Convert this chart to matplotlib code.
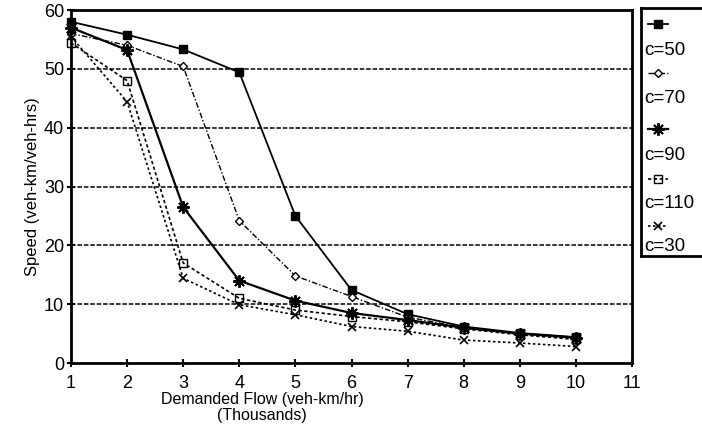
import numpy as np
import matplotlib
matplotlib.use("Agg")
import matplotlib.pyplot as plt

plt.rcParams['font.family'] = ['Liberation Sans Narrow', 'Liberation Sans', 'DejaVu Sans']

# data (flow in thousands veh-km/hr, speed)
flow = [1, 2, 3, 4, 5, 6, 7, 8, 9, 10]
speed_c50 = [58, 55.8, 53.3, 49.4, 25.0, 12.4, 8.3, 6.2, 5.1, 4.4]
speed_c70 = [56, 54.0, 50.4, 24.2, 14.8, 11.3, 7.8, 6.0, 5.0, 4.2]
speed_c90 = [57, 53.2, 26.5, 14.0, 10.6, 8.5, 7.3, 6.0, 5.0, 4.3]
speed_c110 = [54.4, 48.0, 17.0, 11.0, 9.0, 7.9, 7.0, 5.8, 4.8, 4.0]
speed_c30 = [55.5, 44.4, 14.4, 9.9, 8.2, 6.2, 5.4, 3.9, 3.4, 2.8]

labels = ["c=50", "c=70", "c=90", "c=110", "c=30"]
series = [speed_c50, speed_c70, speed_c90, speed_c110, speed_c30]
styles = [
    dict(ls="-", lw=1.3, marker="s", ms=6, mfc="black", mec="black"),
    dict(ls=(0, (4, 1.5, 1, 1.5)), lw=1.0, marker="D", ms=4, mfc="white", mec="black"),
    dict(ls="-", lw=1.6, marker=(8, 2, 0), ms=9, mfc="black", mec="black", mew=1.4),
    dict(ls=(0, (2, 1.5)), lw=1.2, marker="s", ms=6, mfc="none", mec="black"),
    dict(ls=(0, (1.5, 1.5)), lw=1.2, marker="x", ms=6, mfc="none", mec="black", mew=1.2),
]

fig = plt.figure(figsize=(7.02, 4.40), dpi=100)
ax = fig.add_axes([71 / 702, 1 - 363 / 440, (632 - 71) / 702, (363 - 10) / 440])

for ys, st in zip(series, styles):
    ax.plot(flow, ys, color="black", **st, clip_on=False, zorder=3)

ax.set_xlim(1, 11)
ax.set_ylim(0, 60)
ax.set_xticks(range(1, 12))
ax.set_yticks(range(0, 61, 10))
for y in range(10, 60, 10):
    ax.axhline(y, color="black", ls=(0, (3, 1.2)), lw=1.1, zorder=1)
for s in ax.spines.values():
    s.set_linewidth(2)
ax.tick_params(axis="both", direction="inout", length=6, width=1.5, labelsize=13, pad=2)
ax.tick_params(axis="x", pad=6)
ax.set_xlabel("Demanded Flow (veh-km/hr)\n(Thousands)", fontsize=11.5, linespacing=1.05)
ax.xaxis.set_label_coords((262 - 71) / 561, -29 / 353, transform=ax.transAxes)
ax.xaxis.label.set_va("top")
ax.set_ylabel("Speed (veh-km/veh-hrs)", fontsize=12, labelpad=3)

# legend box: sample line above, label below
lax = fig.add_axes([641 / 702, 1 - 256 / 440, 80 / 702, (256 - 8) / 440])
lax.set_xlim(641, 721)
lax.set_ylim(256, 8)
lax.set_xticks([])
lax.set_yticks([])
for s in lax.spines.values():
    s.set_linewidth(2)
lax.spines["right"].set_visible(False)
mark_y = [24, 73, 129, 179, 226]
text_y = [50, 98, 155, 203, 246]
for lab, st, my, ty in zip(labels, styles, mark_y, text_y):
    lax.plot([648, 658, 668], [my, my, my], color="black", markevery=[1], **st)
    lax.text(644, ty, lab, fontsize=13.5, va="center", ha="left")

fig.savefig("out.png", dpi=100)
